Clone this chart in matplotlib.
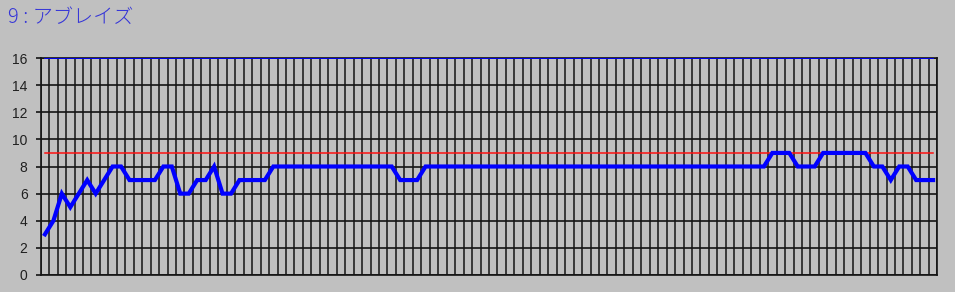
import numpy as np
import matplotlib
matplotlib.use("Agg")
import matplotlib.pyplot as plt

plt.rcParams['font.family'] = ['Noto Sans CJK JP', 'DejaVu Sans']

# data
title = "9 : アブレイズ"
values = [3, 4, 6, 5, 6, 7, 6, 7, 8, 8,
          7, 7, 7, 7, 8, 8, 6, 6, 7, 7,
          8, 6, 6, 7, 7, 7, 7, 8, 8, 8,
          8, 8, 8, 8, 8, 8, 8, 8, 8, 8,
          8, 8, 7, 7, 7, 8, 8, 8, 8, 8,
          8, 8, 8, 8, 8, 8, 8, 8, 8, 8,
          8, 8, 8, 8, 8, 8, 8, 8, 8, 8,
          8, 8, 8, 8, 8, 8, 8, 8, 8, 8,
          8, 8, 8, 8, 8, 8, 9, 9, 9, 8,
          8, 8, 9, 9, 9, 9, 9, 9, 8, 8,
          7, 8, 8, 7, 7, 7]
target = 9
upper = 16
yticks = [0, 2, 4, 6, 8, 10, 12, 14, 16]

n = len(values)
x = np.arange(n) + 0.5

bg = "#c0c0c0"
fig = plt.figure(figsize=(9.55, 2.92), dpi=100, facecolor=bg)
ax = fig.add_axes([40.7 / 955, 1 - 275 / 292, 896.6 / 955, 217 / 292])
ax.set_facecolor(bg)

# category boundaries and value grid
for xi in range(n + 1):
    ax.axvline(xi, color="#141414", lw=1.1, zorder=1)
for yv in yticks:
    ax.axhline(yv, color="#141414", lw=1.2, zorder=1)

ax.plot(x, [upper] * n, color="#0000ff", lw=1.3, zorder=3)
ax.plot(x, [target] * n, color="#ff1010", lw=1.1, zorder=3)
ax.plot(x, values, color="#0000ff", lw=3.0, solid_joinstyle="miter", zorder=4)

ax.set_xlim(0, n)
ax.set_ylim(0, 16)
ax.set_xticks([])
ax.set_yticks(yticks)
ax.set_yticklabels([str(v) for v in yticks], fontsize=10, color="#202020",
                   family="Liberation Sans")
ax.tick_params(axis="y", length=3.5, width=1.2, color="#141414", pad=6)
for s in ax.spines.values():
    s.set_color("#141414")
    s.set_linewidth(1.2)

fig.text(8 / 955, 1 - 17 / 292, title, color="#3434d8", fontsize=14.5,
         fontweight="light", va="center", ha="left")

fig.savefig("out.png", dpi=100, facecolor=bg)
